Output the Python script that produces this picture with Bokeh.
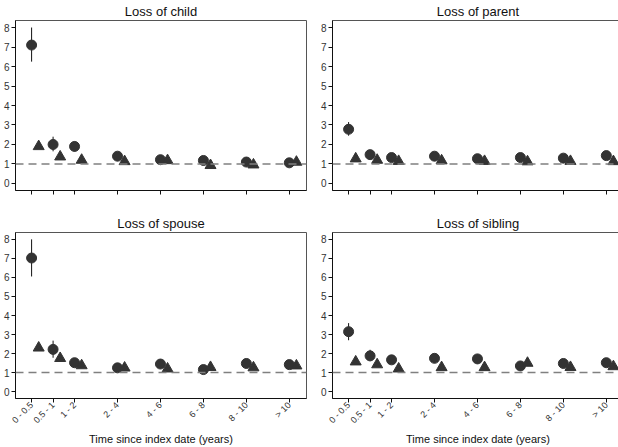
import math
from bokeh.plotting import figure
from bokeh.layouts import gridplot
from bokeh.models import ColumnDataSource, FixedTicker, Span, Range1d
from bokeh.transform import dodge
from bokeh.embed import file_html
from bokeh.resources import INLINE

# ---- data ----
periods = ["0 - 0.5", "0.5 - 1", "1 - 2", "2 - 4", "4 - 6", "6 - 8", "8 - 10", "> 10"]
period_pos = [0, 1, 2, 4, 6, 8, 10, 12]
y_ticks = [0, 1, 2, 3, 4, 5, 6, 7, 8]

child_est = [7.10, 2.00, 1.90, 1.40, 1.22, 1.18, 1.10, 1.06]
child_lo = [6.25, 1.65, 1.65, 1.25, 1.10, 1.05, 1.00, 0.95]
child_hi = [8.00, 2.40, 2.15, 1.55, 1.35, 1.30, 1.22, 1.18]
child_tri = [1.90, 1.37, 1.20, 1.13, 1.18, 0.93, 0.96, 1.10]

parent_est = [2.78, 1.48, 1.33, 1.40, 1.27, 1.33, 1.30, 1.43]
parent_lo = [2.45, 1.35, 1.22, 1.30, 1.18, 1.22, 1.18, 1.30]
parent_hi = [3.15, 1.62, 1.45, 1.50, 1.37, 1.45, 1.43, 1.57]
parent_tri = [1.27, 1.20, 1.14, 1.17, 1.14, 1.12, 1.14, 1.13]

spouse_est = [7.02, 2.22, 1.52, 1.25, 1.45, 1.16, 1.48, 1.42]
spouse_lo = [6.05, 1.78, 1.35, 1.12, 1.30, 1.03, 1.27, 1.28]
spouse_hi = [8.00, 2.68, 1.70, 1.38, 1.60, 1.30, 1.72, 1.57]
spouse_tri = [2.30, 1.75, 1.37, 1.25, 1.20, 1.28, 1.26, 1.36]

sibling_est = [3.15, 1.88, 1.67, 1.75, 1.72, 1.35, 1.48, 1.52]
sibling_lo = [2.70, 1.60, 1.50, 1.60, 1.57, 1.20, 1.30, 1.37]
sibling_hi = [3.60, 2.20, 1.85, 1.90, 1.87, 1.50, 1.68, 1.68]
sibling_tri = [1.57, 1.42, 1.20, 1.27, 1.27, 1.50, 1.28, 1.32]

FONT = "Liberation Sans"
MARK = "#333333"


def panel(title, est, lo, hi, tri, bottom, left_border, right_border):
    src = ColumnDataSource(dict(x=period_pos, est=est, lo=lo, hi=hi, tri=tri))
    p = figure(frame_width=291, frame_height=166 if bottom else 170,
               output_backend="svg", toolbar_location=None,
               x_range=Range1d(-0.75, 12.8), y_range=Range1d(-0.36, 8.36),
               min_border_left=left_border, min_border_right=right_border,
               min_border_top=32 if bottom else 17,
               min_border_bottom=10,
               title=title)
    p.title.align = "center"
    p.title.text_font = FONT
    p.title.text_font_size = "13px"
    p.title.text_font_style = "normal"
    p.title.text_color = "#111111"
    p.title.standoff = 3
    p.grid.visible = False
    p.outline_line_color = "#555555"
    p.outline_line_width = 1

    p.add_layout(Span(location=1, dimension="width", line_color="#808080",
                      line_width=1.5, line_dash="8 5"))
    p.segment(x0="x", y0="lo", x1="x", y1="hi", source=src, line_color="#111111", line_width=1)
    p.scatter(x="x", y="est", source=src, marker="circle", size=10,
              fill_color=MARK, line_color=MARK)
    p.scatter(x=dodge("x", 0.33), y="tri", source=src, marker="triangle", size=11,
              fill_color=MARK, line_color=MARK)

    p.yaxis.ticker = FixedTicker(ticks=y_ticks)
    p.xaxis.ticker = FixedTicker(ticks=period_pos)
    for ax in (p.xaxis[0], p.yaxis[0]):
        ax.minor_tick_line_color = None
        ax.major_tick_in = 0
        ax.major_tick_out = 4
        ax.axis_line_color = "#111111"
        ax.major_tick_line_color = "#111111"
        ax.major_label_text_font = FONT
        ax.major_label_text_font_size = "10px"
        ax.major_label_text_color = "#333333"
        ax.major_label_standoff = 2
    if bottom:
        p.xaxis.major_label_overrides = {pos: lab for pos, lab in zip(period_pos, periods)}
        p.xaxis.major_label_orientation = math.pi / 4
        p.xaxis.major_label_text_font_size = "9px"
        p.xaxis.major_label_standoff = 1
        p.xaxis.axis_label = "Time since index date (years)"
        p.xaxis.axis_label_text_font = FONT
        p.xaxis.axis_label_text_font_size = "11px"
        p.xaxis.axis_label_text_font_style = "normal"
        p.xaxis.axis_label_text_color = "#111111"
        p.xaxis.axis_label_standoff = 1
    else:
        p.xaxis.major_label_overrides = {pos: "" for pos in period_pos}
    return p


p1 = panel("Loss of child", child_est, child_lo, child_hi, child_tri, False, 12, 11)
p2 = panel("Loss of parent", parent_est, parent_lo, parent_hi, parent_tri, False, 12, 1)
p3 = panel("Loss of spouse", spouse_est, spouse_lo, spouse_hi, spouse_tri, True, 12, 11)
p4 = panel("Loss of sibling", sibling_est, sibling_lo, sibling_hi, sibling_tri, True, 12, 1)

grid = gridplot([[p1, p2], [p3, p4]], toolbar_location=None)

open("out.html", "w").write(file_html(grid, INLINE))
